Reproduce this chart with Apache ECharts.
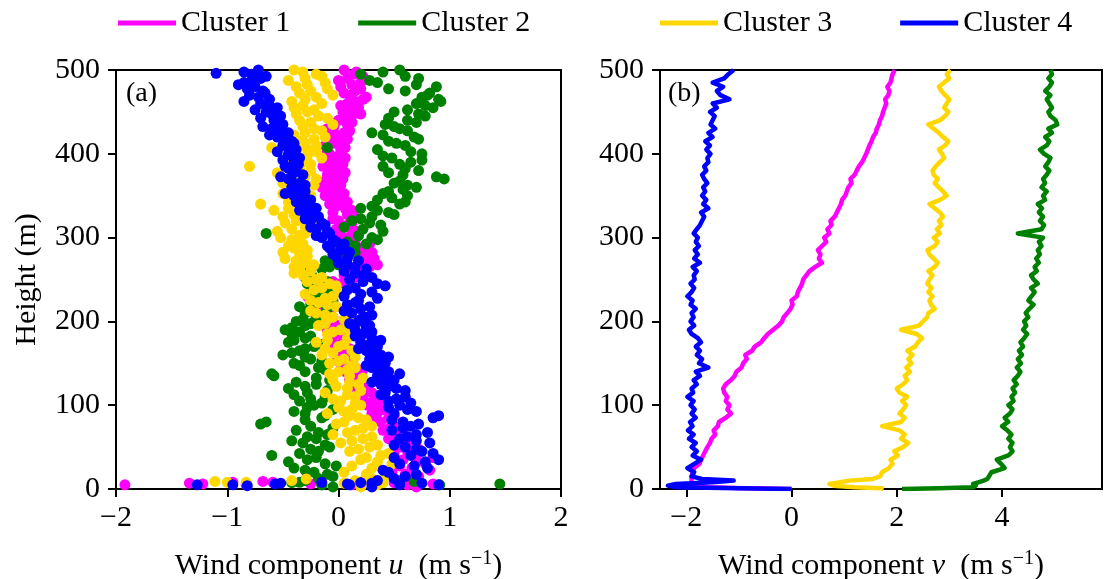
<!DOCTYPE html>
<html>
<head>
<meta charset="utf-8">
<script src="https://cdn.jsdelivr.net/npm/echarts@6/dist/echarts.min.js"></script>
<style>
  html, body { margin: 0; padding: 0; background: #fff; }
  #chart { width: 1106px; height: 579px; }
</style>
</head>
<body>
<div id="chart"></div>
<script>
// Cluster names and colours
const clusterNames = ['Cluster 1', 'Cluster 2', 'Cluster 3', 'Cluster 4'];
const clusterColors = ['#ff00ff', '#008000', '#ffd700', '#0000ff'];

// Height levels (m) of the profiles
const gridHeights = [5,10,15,20,25,30,35,40,45,50,55,60,65,70,75,80,85,90,95,100,
  105,110,115,120,125,130,135,140,145,150,155,160,165,170,175,180,185,190,195,200,
  205,210,215,220,225,230,235,240,245,250,255,260,265,270,275,280,285,290,295,300,
  305,310,315,320,325,330,335,340,345,350,355,360,365,370,375,380,385,390,395,400,
  405,410,415,420,425,430,435,440,445,450,455,460,465,470,475,480,485,490,495,500];
// intermediate levels, half a step below each grid level
const midHeights = gridHeights.map(h => h - 2.5);
const nearGroundHeights = [0,1,2,4,6,8,10,12,15,20];
const lineHeights = nearGroundHeights.concat(gridHeights.slice(4));

// Panel (a): u component (m s-1) at each grid height
const uCluster1 = [0.62,0.55,0.72,0.48,0.66,0.78,0.58,0.70,0.62,0.55,
  0.68,0.45,0.52,0.40,0.56,0.38,0.45,0.30,0.40,0.26,
  0.35,0.22,0.30,0.18,0.25,0.10,0.20,0.06,0.15,0.02,
  0.10,-0.02,0.06,-0.06,0.04,-0.08,0.02,-0.10,0.00,-0.12,
  -0.05,-0.18,-0.08,-0.22,-0.12,-0.28,-0.18,-0.10,0.02,0.10,
  0.05,0.18,0.28,0.20,0.32,0.22,0.15,0.25,0.10,0.05,
  0.12,-0.02,0.08,0.00,0.14,-0.05,0.06,-0.08,0.02,-0.12,
  -0.02,-0.15,-0.05,0.04,-0.10,0.00,-0.14,-0.04,0.06,-0.08,
  0.02,-0.12,0.00,-0.06,0.05,-0.10,0.08,0.00,0.12,0.04,
  0.18,0.08,0.22,0.10,0.15,0.02,0.20,0.08,0.14,0.05];
const uCluster2 = [-0.15,-0.30,-0.05,-0.22,-0.40,-0.12,-0.28,-0.60,-0.18,-0.08,
  -0.32,-0.20,-0.10,-0.38,-0.25,-0.65,-0.15,-0.30,-0.05,-0.22,
  -0.35,-0.12,-0.28,-0.45,-0.20,-0.08,-0.58,-0.30,-0.18,-0.40,
  -0.25,-0.50,-0.35,-0.22,-0.45,-0.30,-0.42,-0.48,-0.30,-0.38,
  -0.20,-0.30,-0.10,-0.25,-0.05,-0.18,0.02,-0.12,-0.28,-0.15,
  -0.24,-0.30,-0.08,0.05,-0.05,0.10,-0.02,0.15,0.08,0.30,
  -0.65,0.22,0.38,0.12,0.30,0.45,0.20,0.55,0.35,0.62,
  0.45,0.70,0.50,0.95,0.58,0.72,0.40,0.65,0.48,0.75,
  0.35,0.60,0.45,0.68,0.30,0.55,0.42,0.62,0.78,0.50,
  0.85,0.70,0.90,0.80,0.60,0.88,0.35,0.72,0.20,0.55];
const uCluster3 = [0.35,0.15,0.42,0.05,0.30,0.48,0.20,0.38,0.10,0.28,
  0.02,0.22,-0.05,0.15,0.30,0.05,0.18,-0.10,0.12,0.20,
  0.02,0.15,-0.12,0.08,0.18,-0.05,0.10,0.00,0.15,-0.08,
  0.05,-0.15,0.12,0.00,-0.20,0.08,-0.10,0.02,-0.18,0.10,
  -0.05,-0.20,0.05,-0.10,-0.25,-0.05,0.00,-0.15,-0.08,-0.20,
  -0.32,-0.25,-0.40,-0.30,-0.48,-0.35,-0.28,-0.45,-0.38,-0.52,
  -0.30,-0.42,-0.22,-0.38,-0.50,-0.28,-0.45,-0.70,-0.35,-0.25,
  -0.42,-0.30,-0.50,-0.20,-0.38,-0.25,-0.80,-0.32,-0.15,-0.40,
  -0.28,-0.20,-0.35,-0.12,-0.30,-0.22,-0.05,-0.35,-0.18,-0.28,
  -0.40,-0.15,-0.30,-0.05,-0.25,-0.38,-0.12,-0.30,-0.20,-0.40];
const uCluster4 = [0.10,0.35,0.60,0.45,0.80,0.55,0.90,0.65,0.75,0.60,
  0.82,0.55,0.70,0.48,0.65,0.58,0.85,0.50,0.62,0.55,
  0.45,0.60,0.42,0.52,0.38,0.50,0.35,0.45,0.30,0.42,
  0.28,0.38,0.25,0.35,0.20,0.30,0.22,0.15,0.28,0.18,
  0.25,0.12,0.20,0.08,0.18,0.05,0.30,0.15,0.35,0.10,
  0.22,0.05,0.15,0.00,0.08,-0.05,0.02,-0.10,-0.02,-0.15,
  -0.08,-0.20,-0.12,-0.25,-0.18,-0.30,-0.20,-0.32,-0.25,-0.40,
  -0.30,-0.42,-0.35,-0.45,-0.32,-0.38,-0.48,-0.40,-0.35,-0.45,
  -0.38,-0.50,-0.42,-0.55,-0.45,-0.60,-0.50,-0.58,-0.52,-0.65,
  -0.55,-0.70,-0.62,-0.80,-0.68,-0.75,-0.85,-0.70,-0.78,-0.72];

// Panel (a): u component (m s-1) at the intermediate levels
const uMidCluster1 = [0.70,0.50,0.68,0.60,0.82,0.55,0.70,0.85,0.50,0.72,
  0.60,0.55,0.62,0.50,0.46,0.48,0.35,0.50,0.36,0.32,
  0.28,0.40,0.32,0.25,0.12,0.30,0.16,0.12,0.22,0.08,
  0.00,0.14,0.08,0.10,-0.02,0.06,-0.05,0.05,-0.04,0.06,
  -0.15,-0.10,-0.25,-0.15,-0.05,-0.20,-0.10,-0.22,0.05,-0.05,
  0.15,0.22,0.12,0.35,0.26,0.18,0.30,0.20,0.28,0.15,
  0.00,0.16,0.04,0.12,-0.05,0.08,0.12,-0.02,0.08,-0.06,
  0.05,-0.10,0.02,-0.12,-0.02,0.06,-0.06,0.04,-0.12,0.00,
  -0.10,0.06,-0.04,0.08,-0.02,0.10,-0.04,0.12,0.05,0.20,
  0.10,0.02,0.15,0.25,0.05,0.20,0.12,0.00,0.22,0.16];
const uMidCluster2 = [-0.05,-0.42,-0.18,-0.10,-0.30,-0.02,-0.45,-0.20,-0.35,-0.25,
  -0.12,-0.42,-0.28,-0.18,-0.05,-0.70,-0.30,-0.12,-0.40,-0.28,
  -0.15,-0.25,-0.40,-0.10,-0.30,-0.38,-0.20,-0.60,-0.12,-0.35,
  -0.15,-0.30,-0.42,-0.30,-0.15,-0.40,-0.25,-0.35,-0.42,-0.25,
  -0.32,-0.15,-0.28,-0.35,-0.15,-0.10,-0.25,-0.05,-0.20,-0.10,
  -0.30,-0.26,-0.15,0.00,-0.12,0.05,0.15,0.05,0.25,0.35,
  0.18,0.40,0.05,0.28,0.20,0.50,0.35,0.30,0.60,0.48,
  0.40,0.58,0.62,0.55,0.88,0.45,0.60,0.55,0.75,0.40,
  0.65,-0.10,0.52,0.72,0.40,0.62,0.50,0.70,0.45,0.72,
  0.62,0.78,0.92,0.75,0.82,0.45,0.70,0.28,0.60,0.40];
const uMidCluster3 = [0.20,0.40,0.30,0.25,0.45,0.12,0.35,0.25,0.45,0.18,
  0.35,0.12,0.30,0.08,0.22,-0.02,0.25,0.10,0.05,0.00,
  0.15,-0.05,0.08,0.20,-0.02,0.10,0.22,-0.08,0.08,0.12,
  0.00,0.15,-0.05,-0.12,0.05,-0.10,0.12,-0.05,0.08,-0.12,
  0.05,-0.12,-0.25,-0.02,-0.18,-0.12,-0.30,-0.22,-0.02,-0.28,
  -0.15,-0.40,-0.35,-0.22,-0.38,-0.28,-0.50,-0.40,-0.32,-0.42,
  -0.35,-0.55,-0.30,-0.48,-0.32,-0.40,-0.58,-0.35,-0.45,-0.30,
  -0.50,-0.35,-0.22,-0.40,-0.30,-0.55,-0.35,-0.25,-0.45,-0.28,
  -0.20,-0.60,-0.30,-0.22,-0.40,-0.15,-0.32,-0.25,-0.10,-0.38,
  -0.22,-0.32,-0.42,-0.20,-0.35,-0.10,-0.28,-0.45,-0.15,-0.32];
const uMidCluster4 = [0.30,0.20,0.50,0.70,0.40,0.68,0.78,0.50,0.85,0.70,
  0.50,0.70,0.62,0.80,0.58,0.72,0.48,0.90,0.70,0.45,
  0.65,0.52,0.38,0.60,0.45,0.30,0.42,0.55,0.38,0.25,
  0.35,0.45,0.30,0.18,0.28,0.38,0.15,0.30,0.25,0.10,
  0.20,0.30,0.05,0.28,0.15,0.35,0.20,0.08,0.42,0.22,
  0.30,0.15,0.25,0.08,0.18,-0.02,0.10,-0.08,0.05,-0.05,
  -0.20,-0.10,-0.25,-0.15,-0.30,-0.22,-0.35,-0.25,-0.38,-0.32,
  -0.48,-0.35,-0.30,-0.42,-0.52,-0.40,-0.45,-0.36,-0.50,-0.42,
  -0.55,-0.45,-0.40,-0.50,-0.62,-0.52,-0.68,-0.56,-0.70,-0.60,
  -0.75,-0.62,-0.85,-0.72,-0.66,-0.82,-0.90,-0.78,-0.65,-0.85];

// Panel (a): extra samples near the ground and outliers, as [u, height]
const extraCluster1 = [[-1.92,5],[-1.34,7],[-1.22,6],[-0.95,8],[-0.83,5],[-0.68,9],[-0.59,8],[-0.25,6],[0.12,5],[0.62,7],[0.85,6]];
const extraCluster2 = [[0.91,5],[1.45,6],[0.55,7],[0.20,8],[-0.15,5],[-0.35,8],[0.68,9]];
const extraCluster3 = [[-1.11,9],[-1.00,8],[-0.83,8],[-0.42,10],[-0.29,12],[0.05,7],[0.28,9]];
const extraCluster4 = [[-1.27,5],[-0.95,5],[-0.82,4],[-0.57,6],[-0.52,7],[-0.15,8],[0.08,6],[0.30,7],[0.55,5],[0.75,7],[0.90,5],[-1.10,496]];

// Panel (b): v component (m s-1) at each line height
const vCluster1 = [0.00,-0.90,-1.60,-1.85,-1.90,-1.88,-1.90,-1.92,-1.90,-1.88,
  -1.85,-1.75,-1.72,-1.68,-1.64,-1.60,-1.55,-1.52,-1.45,-1.48,
  -1.40,-1.38,-1.25,-1.15,-1.22,-1.18,-1.25,-1.22,-1.28,-1.30,
  -1.25,-1.15,-1.08,-1.05,-0.95,-0.92,-0.85,-0.88,-0.75,-0.70,
  -0.58,-0.52,-0.45,-0.35,-0.25,-0.18,-0.15,-0.08,-0.02,0.02,
  0.00,0.10,0.12,0.16,0.20,0.22,0.28,0.34,0.45,0.58,
  0.52,0.55,0.50,0.58,0.66,0.62,0.72,0.68,0.76,0.74,
  0.82,0.86,0.90,0.94,0.96,1.02,1.05,1.08,1.14,1.12,
  1.20,1.24,1.28,1.34,1.38,1.42,1.45,1.48,1.52,1.55,
  1.60,1.62,1.66,1.68,1.72,1.74,1.77,1.80,1.78,1.84,
  1.86,1.82,1.88,1.90,1.92,1.96];
const vCluster2 = [2.10,2.80,3.45,3.50,3.45,3.55,3.65,3.72,3.75,3.80,
  4.05,3.98,3.90,4.12,4.20,4.15,4.20,4.12,4.18,4.10,
  4.00,4.12,4.05,4.15,4.20,4.12,4.22,4.18,4.25,4.20,
  4.28,4.22,4.30,4.35,4.28,4.36,4.30,4.38,4.32,4.40,
  4.35,4.42,4.48,4.40,4.46,4.42,4.50,4.45,4.52,4.60,
  4.50,4.56,4.62,4.55,4.68,4.60,4.55,4.66,4.62,4.70,
  4.65,4.72,4.68,4.75,4.70,4.78,4.30,4.75,4.80,4.72,
  4.78,4.70,4.76,4.68,4.82,4.78,4.85,4.75,4.82,4.78,
  4.85,4.90,4.82,4.88,4.92,4.80,4.72,4.85,4.90,4.82,
  4.95,4.88,5.05,5.02,4.92,4.88,4.95,4.90,4.85,4.92,
  4.82,4.90,4.95,4.88,4.95,4.92];
const vCluster3 = [1.75,1.70,1.20,0.80,0.72,0.75,1.10,1.55,1.68,1.72,
  1.85,1.92,1.88,2.02,1.95,2.12,2.22,2.08,2.15,2.05,
  1.72,2.08,2.15,2.05,2.12,2.18,2.10,2.20,2.05,2.00,
  2.12,2.20,2.15,2.25,2.18,2.28,2.22,2.30,2.20,2.35,
  2.40,2.48,2.38,2.08,2.42,2.50,2.58,2.60,2.72,2.65,
  2.62,2.68,2.60,2.66,2.58,2.62,2.68,2.60,2.72,2.78,
  2.70,2.62,2.58,2.72,2.78,2.70,2.82,2.76,2.85,2.80,
  2.88,2.82,2.72,2.62,2.82,2.95,2.88,2.80,2.72,2.78,
  2.70,2.68,2.74,2.82,2.90,2.86,2.80,2.92,2.98,2.88,
  2.80,2.70,2.60,2.82,2.92,2.98,2.90,2.95,3.00,2.92,
  2.85,2.80,2.90,3.00,2.95,3.02];
const vCluster4 = [0.00,-1.00,-2.20,-2.35,-2.20,-1.50,-1.10,-1.70,-1.90,-1.85,
  -1.98,-1.85,-1.72,-1.88,-1.80,-1.90,-1.82,-1.95,-1.86,-1.97,
  -1.88,-1.93,-1.82,-1.90,-1.84,-1.92,-1.86,-1.98,-1.87,-1.90,
  -1.80,-1.86,-1.74,-1.82,-1.58,-1.76,-1.70,-1.80,-1.74,-1.82,
  -1.72,-1.78,-1.90,-1.95,-1.85,-1.92,-1.86,-1.90,-1.82,-1.92,
  -1.88,-1.98,-1.90,-1.85,-1.92,-1.84,-1.86,-1.80,-1.88,-1.74,
  -1.85,-1.78,-1.84,-1.76,-1.82,-1.78,-1.86,-1.80,-1.74,-1.70,
  -1.66,-1.72,-1.58,-1.68,-1.62,-1.70,-1.64,-1.68,-1.60,-1.66,
  -1.70,-1.62,-1.66,-1.58,-1.60,-1.54,-1.62,-1.55,-1.64,-1.50,
  -1.58,-1.45,-1.54,-1.50,-1.46,-1.55,-1.42,-1.50,-1.18,-1.35,
  -1.42,-1.30,-1.50,-1.28,-1.20,-1.10];

// Axis ticks
const uTicks = [-2, -1, 0, 1, 2];
const vTicks = [-2, 0, 2, 4];
const heightTicks = [0, 100, 200, 300, 400, 500];

const uSeries = [uCluster1, uCluster2, uCluster3, uCluster4];
const uMidSeries = [uMidCluster1, uMidCluster2, uMidCluster3, uMidCluster4];
const uExtras = [extraCluster1, extraCluster2, extraCluster3, extraCluster4];
const vSeries = [vCluster1, vCluster2, vCluster3, vCluster4];

const FONT = "'Liberation Serif', 'Times New Roman', serif";
const minus = v => String(v).replace('-', '\u2212');

const chart = echarts.init(document.getElementById('chart'), null, { renderer: 'canvas' });

const axisCommon = {
  axisLine: { show: true, onZero: false, lineStyle: { color: '#000', width: 2 } },
  axisTick: { show: true, inside: false, length: 8, lineStyle: { color: '#000', width: 2 } },
  splitLine: { show: false },
};

const series = [];
clusterNames.forEach((name, k) => {
  const pts = gridHeights.map((h, i) => [uSeries[k][i], h])
    .concat(midHeights.map((h, i) => [uMidSeries[k][i], h]))
    .concat(uExtras[k]);
  series.push({
    name: name,
    type: 'scatter',
    xAxisIndex: 0,
    yAxisIndex: 0,
    symbol: 'circle',
    symbolSize: 11,
    itemStyle: { color: clusterColors[k], opacity: 1 },
    emphasis: { disabled: true },
    silent: true,
    data: pts,
  });
});
clusterNames.forEach((name, k) => {
  series.push({
    name: name,
    type: 'line',
    xAxisIndex: 1,
    yAxisIndex: 1,
    showSymbol: false,
    symbol: 'none',
    lineStyle: { color: clusterColors[k], width: 4.5, join: 'round' },
    itemStyle: { color: clusterColors[k] },
    emphasis: { disabled: true },
    silent: true,
    data: lineHeights.map((h, i) => [vSeries[k][i], h]),
  });
});

const titleRich = {
  a: { fontFamily: FONT, fontSize: 30, color: '#000' },
  i: { fontFamily: FONT, fontSize: 30, fontStyle: 'italic', color: '#000' },
  s: { fontFamily: FONT, fontSize: 20, color: '#000', padding: [0, 0, 14, 0] },
};

const option = {
  animation: false,
  backgroundColor: '#ffffff',
  textStyle: { fontFamily: FONT, color: '#000' },
  legend: [
    {
      data: ['Cluster 1', 'Cluster 2'],
      left: 113, top: 3,
      icon: 'rect', itemWidth: 58, itemHeight: 5, itemGap: 68,
      textStyle: { fontFamily: FONT, fontSize: 30, color: '#000' },
      selectedMode: false,
    },
    {
      data: ['Cluster 3', 'Cluster 4'],
      left: 655, top: 3,
      icon: 'rect', itemWidth: 58, itemHeight: 5, itemGap: 68,
      textStyle: { fontFamily: FONT, fontSize: 30, color: '#000' },
      selectedMode: false,
    },
  ],
  grid: [
    { left: 116, top: 70, width: 445, height: 419, outerBoundsMode: 'none', show: true, borderColor: '#000', borderWidth: 2, backgroundColor: 'transparent' },
    { left: 660, top: 70, width: 442, height: 419, outerBoundsMode: 'none', show: true, borderColor: '#000', borderWidth: 2, backgroundColor: 'transparent' },
  ],
  xAxis: [
    Object.assign({}, axisCommon, {
      type: 'value', gridIndex: 0,
      min: uTicks[0], max: uTicks[uTicks.length - 1], interval: 1,
      axisLabel: { fontFamily: FONT, fontSize: 30, color: '#000', margin: 14, formatter: minus },
      name: '{a|Wind component }{i|u}{a|  (m s}{s|\u22121}{a|)}',
      nameLocation: 'middle', nameGap: 60,
      nameTextStyle: { rich: titleRich },
    }),
    Object.assign({}, axisCommon, {
      type: 'value', gridIndex: 1,
      min: -2.5, max: 5.9,
      axisTick: { show: true, inside: false, length: 8, customValues: vTicks, lineStyle: { color: '#000', width: 2 } },
      axisLabel: { fontFamily: FONT, fontSize: 30, color: '#000', margin: 14, customValues: vTicks, formatter: minus },
      name: '{a|Wind component }{i|v}{a|  (m s}{s|\u22121}{a|)}',
      nameLocation: 'middle', nameGap: 60,
      nameTextStyle: { rich: titleRich },
    }),
  ],
  yAxis: [
    Object.assign({}, axisCommon, {
      type: 'value', gridIndex: 0,
      min: heightTicks[0], max: heightTicks[heightTicks.length - 1], interval: 100,
      axisLabel: { fontFamily: FONT, fontSize: 30, color: '#000', margin: 16 },
      name: 'Height (m)', nameLocation: 'middle', nameGap: 74, nameRotate: 90,
      nameTextStyle: { fontFamily: FONT, fontSize: 30, color: '#000' },
    }),
    Object.assign({}, axisCommon, {
      type: 'value', gridIndex: 1,
      min: heightTicks[0], max: heightTicks[heightTicks.length - 1], interval: 100,
      axisLabel: { fontFamily: FONT, fontSize: 30, color: '#000', margin: 16 },
    }),
  ],
  graphic: [
    { type: 'text', left: 126, top: 80, style: { text: '(a)', font: "28px 'Liberation Serif', serif", fill: '#000' } },
    { type: 'text', left: 668, top: 80, style: { text: '(b)', font: "28px 'Liberation Serif', serif", fill: '#000' } },
  ],
  series: series,
};

chart.setOption(option);
</script>
</body>
</html>
